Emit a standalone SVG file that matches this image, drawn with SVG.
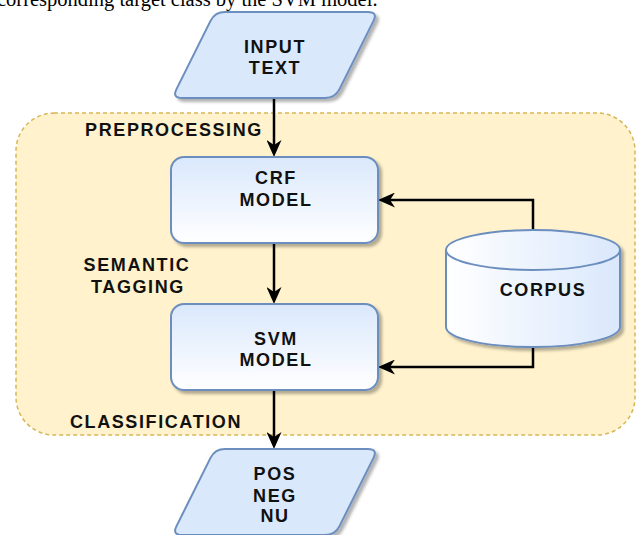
<svg xmlns="http://www.w3.org/2000/svg" width="644" height="535" viewBox="0 0 644 535">
<style>
.lbl{font-family:"Liberation Sans",Arial,sans-serif;font-weight:bold;font-size:18px;fill:#111111;text-anchor:middle;letter-spacing:1.6px}
.edge{fill:none;stroke:#000;stroke-width:2.5}
.blue{stroke:#6c8ebf;stroke-width:2}
</style>
<defs>
<linearGradient id="gv" x1="0" y1="0" x2="0" y2="1"><stop offset="0" stop-color="#dae8fc"/><stop offset="1" stop-color="#ffffff"/></linearGradient>
<linearGradient id="gh" x1="0" y1="0" x2="1" y2="0"><stop offset="0" stop-color="#ffffff"/><stop offset="1" stop-color="#dae8fc"/></linearGradient>
<filter id="sh" x="-10%" y="-10%" width="130%" height="130%"><feDropShadow dx="3" dy="3" stdDeviation="1.5" flood-color="#000" flood-opacity="0.3"/></filter>
<marker id="arr" markerUnits="userSpaceOnUse" viewBox="0 0 17 15" refX="9" refY="7.5" markerWidth="17" markerHeight="15" orient="auto"><path d="M17,7.5 L0,0 L5,7.5 L0,15 Z" fill="#000"/></marker>
<path id="para" d="M225,12 L368,12 Q378,12 373.5,20.9 L339.5,89.1 Q335,98 325,98 L182,98 Q172,98 176.5,89.1 L210.5,20.9 Q215,12 225,12 Z"/>
</defs>
<rect width="644" height="535" fill="#ffffff"/>
<text x="-3" y="6" style="font-family:'Liberation Serif','Times New Roman',serif;font-size:20.5px;fill:#000">corresponding target class by the SVM model.</text>
<g id="container">
<rect x="16" y="113" width="619" height="322" rx="38" fill="#fff2cc" stroke="#d6b656" stroke-width="1.5" stroke-dasharray="4 3"/>
<text class="lbl" x="174" y="136">PREPROCESSING</text>
<text class="lbl" x="137" y="271">SEMANTIC</text>
<text class="lbl" x="138" y="293">TAGGING</text>
<text class="lbl" x="156" y="428">CLASSIFICATION</text>
</g>
<g id="connectors">
<path class="edge" d="M274,98 L274,149" marker-end="url(#arr)"/>
<path class="edge" d="M274,243 L274,296" marker-end="url(#arr)"/>
<path class="edge" d="M274,390 L274,441" marker-end="url(#arr)"/>
<path class="edge" d="M533,230 L533,200 L386,200" marker-end="url(#arr)"/>
<path class="edge" d="M533,347 L533,367 L386,367" marker-end="url(#arr)"/>
</g>
<g id="input">
<use href="#para" fill="#dae8fc" class="blue" filter="url(#sh)"/>
<text class="lbl" x="275" y="53">INPUT</text>
<text class="lbl" x="275" y="74">TEXT</text>
</g>
<g id="crf">
<rect x="171" y="157" width="207" height="86" rx="13" fill="url(#gv)" class="blue" filter="url(#sh)"/>
<text class="lbl" x="276" y="184">CRF</text>
<text class="lbl" x="276" y="206">MODEL</text>
</g>
<g id="svm">
<rect x="171" y="304" width="207" height="86" rx="13" fill="url(#gv)" class="blue" filter="url(#sh)"/>
<text class="lbl" x="276" y="345">SVM</text>
<text class="lbl" x="276" y="366">MODEL</text>
</g>
<g id="corpus">
<path d="M446,250 A87,20 0 0 1 620,250 L620,327 A87,20 0 0 1 446,327 Z" fill="url(#gh)" class="blue" filter="url(#sh)"/>
<path d="M446,250 A87,20 0 0 0 620,250" fill="none" class="blue"/>
<text class="lbl" x="543" y="296">CORPUS</text>
</g>
<g id="output">
<use href="#para" transform="translate(0,437)" fill="#dae8fc" class="blue" filter="url(#sh)"/>
<text class="lbl" x="275" y="480">POS</text>
<text class="lbl" x="275" y="502">NEG</text>
<text class="lbl" x="275" y="522">NU</text>
</g>
</svg>
